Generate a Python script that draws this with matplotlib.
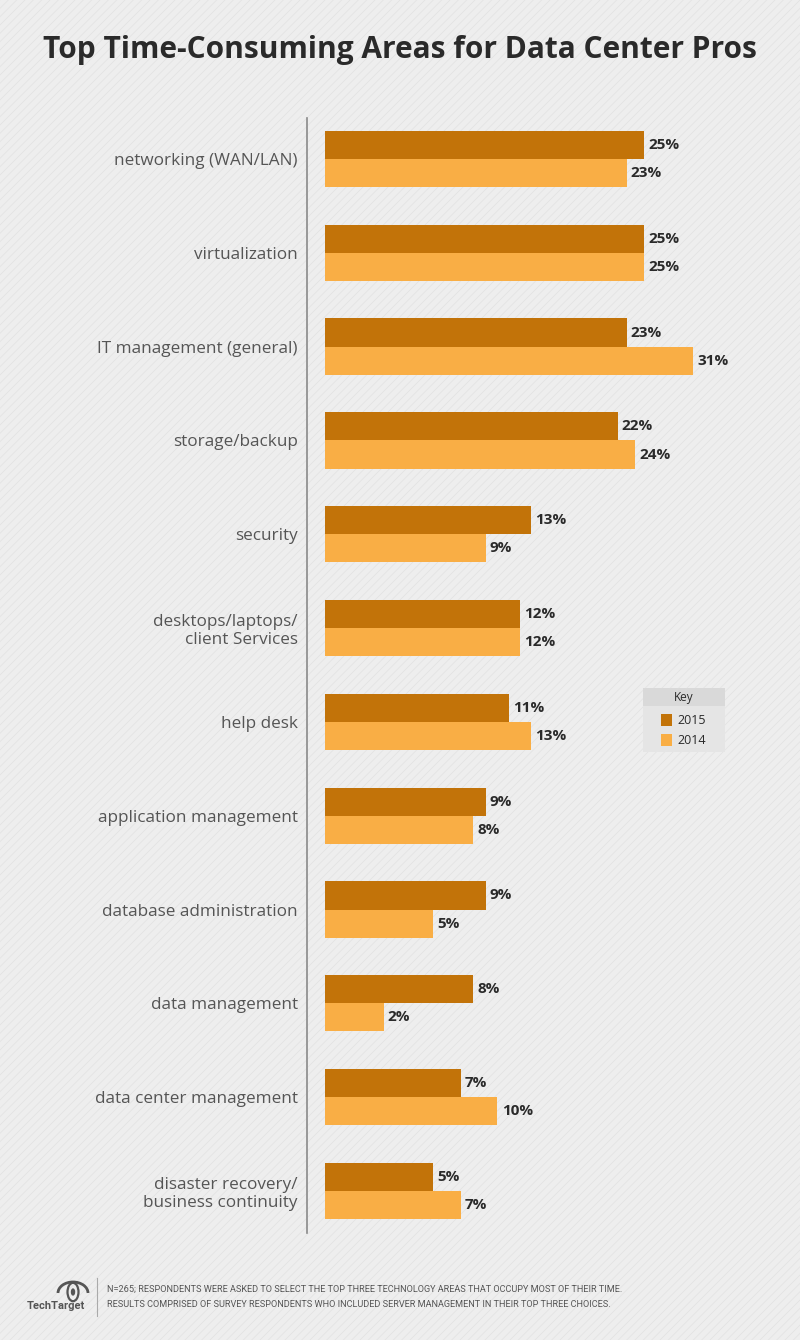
import numpy as np
import matplotlib.pyplot as plt
from matplotlib.patches import Rectangle, Circle, Arc

# Data
categories = ['networking (WAN/LAN)', 'virtualization', 'IT management (general)',
              'storage/backup', 'security', 'desktops/laptops/\nclient Services',
              'help desk', 'application management', 'database administration',
              'data management', 'data center management',
              'disaster recovery/\nbusiness continuity']
vals_2015 = [25, 25, 23, 22, 13, 12, 11, 9, 9, 8, 7, 5]
vals_2014 = [23, 25, 31, 24, 9, 12, 13, 8, 5, 2, 10, 7]
series_names = ['2015', '2014']

c2015 = '#c27309'
c2014 = '#f9ae45'
bg = '#eeeeee'
text_dark = '#2a2a2a'
text_mid = '#555555'

plt.rcParams['font.family'] = ['Open Sans', 'DejaVu Sans']
plt.rcParams['font.stretch'] = 'normal'
plt.rcParams['hatch.linewidth'] = 0.6

W, H = 800, 1340
fig = plt.figure(figsize=(W / 100, H / 100), dpi=100)
fig.patch.set_facecolor(bg)

# striped background
fig.patches.append(Rectangle((0, 0), 1, 1, transform=fig.transFigure,
                             facecolor=bg, edgecolor='#e3e3e3', hatch='////',
                             linewidth=0, zorder=-10))

def px(x, y):
    # pixel (from top-left) -> figure fraction
    return x / W, 1 - y / H

# Title
fig.text(0.5, 1 - 50 / H, 'Top Time-Consuming Areas for Data Center Pros',
         ha='center', va='center', fontsize=21.5, fontweight='bold',
         fontstretch='normal', color=text_dark)

# Main axes
left, right, top, bottom = 325, 800, 118, 1233
ax = fig.add_axes([left / W, 1 - bottom / H, (right - left) / W, (bottom - top) / H])
ax.set_facecolor('none')

# the source graphic compresses longer bars; a power scale follows it
p = 0.671
ax.set_xscale('function', functions=(lambda v: np.sign(v) * np.abs(v) ** p,
                                     lambda v: np.sign(v) * np.abs(v) ** (1 / p)))
ax.set_xlim(0, 45.26)

y = np.arange(len(categories))
bh = 0.3
bars15 = ax.barh(y - bh / 2, vals_2015, height=bh, color=c2015, label=series_names[0])
bars14 = ax.barh(y + bh / 2, vals_2014, height=bh, color=c2014, label=series_names[1])
ax.set_ylim(11.448, -0.437)

for bars, vals in ((bars15, vals_2015), (bars14, vals_2014)):
    for b, v in zip(bars, vals):
        ax.annotate(f'{v}%', (v, b.get_y() + b.get_height() / 2), xytext=(3, 0),
                    textcoords='offset points', ha='left', va='center',
                    fontsize=11, fontweight='bold', fontstretch='normal',
                    color=text_dark)

ax.tick_params(axis='y', length=0, pad=6.5, labelsize=12.3, labelcolor=text_mid)
ax.set_xticks([])
ax.set_yticks(y)
ax.set_yticklabels(categories)
for lab in ax.get_yticklabels():
    lab.set_linespacing(1.35)
    lab.set_multialignment('right')
for s in ('top', 'right', 'bottom'):
    ax.spines[s].set_visible(False)
ax.spines['left'].set_position(('outward', 13))
ax.spines['left'].set_color('#8a8a8a')
ax.spines['left'].set_linewidth(1.2)

# Key box
kx0, ky0, kx1, ky1 = 643, 688, 725, 752
fig.patches.append(Rectangle(px(kx0, ky1), (kx1 - kx0) / W, (ky1 - ky0) / H,
                             transform=fig.transFigure, facecolor='#e5e5e5',
                             edgecolor='none', zorder=1))
fig.patches.append(Rectangle(px(kx0, 706), (kx1 - kx0) / W, (706 - ky0) / H,
                             transform=fig.transFigure, facecolor='#d9d9d9',
                             edgecolor='none', zorder=2))
fig.text(*px(684, 697), 'Key', ha='center', va='center', fontsize=8.5,
         color=text_dark, zorder=3)
for name, col, yy in ((series_names[0], c2015, 720), (series_names[1], c2014, 740)):
    fig.patches.append(Rectangle(px(661, yy + 6), 11 / W, 12 / H,
                                 transform=fig.transFigure, facecolor=col,
                                 edgecolor='none', zorder=3))
    fig.text(*px(677, yy), name, ha='left', va='center', fontsize=9,
             color=text_dark, zorder=3)

# Footer: TechTarget eye logo
logo = '#555555'
fig.add_artist(Arc(px(73, 1293), 30 / W, 22 / H, theta1=0, theta2=180,
                   transform=fig.transFigure, color=logo, linewidth=2))
fig.add_artist(Circle(px(73, 1292), 5.5 / W, transform=fig.transFigure,
                      facecolor='none', edgecolor=logo, linewidth=1.6))
fig.add_artist(Circle(px(73, 1292), 2.2 / W, transform=fig.transFigure,
                      facecolor=logo, edgecolor='none'))
fig.text(*px(56, 1306), 'TechTarget', ha='center', va='center', fontsize=8,
         fontweight='bold', color=logo, family=['Roboto', 'DejaVu Sans'])
fig.add_artist(plt.Line2D([97 / W, 97 / W], [1 - 1278 / H, 1 - 1316 / H],
                          transform=fig.transFigure, color='#aaaaaa', linewidth=0.8))
foot = ('N=265; RESPONDENTS WERE ASKED TO SELECT THE TOP THREE TECHNOLOGY AREAS THAT OCCUPY MOST OF THEIR TIME.\n'
        'RESULTS COMPRISED OF SURVEY RESPONDENTS WHO INCLUDED SERVER MANAGEMENT IN THEIR TOP THREE CHOICES.')
fig.text(*px(107, 1297), foot, ha='left', va='center', fontsize=6.6,
         color='#555555', linespacing=1.9, family=['Roboto', 'DejaVu Sans'])

fig.savefig('out.png', dpi=100, facecolor=bg)
